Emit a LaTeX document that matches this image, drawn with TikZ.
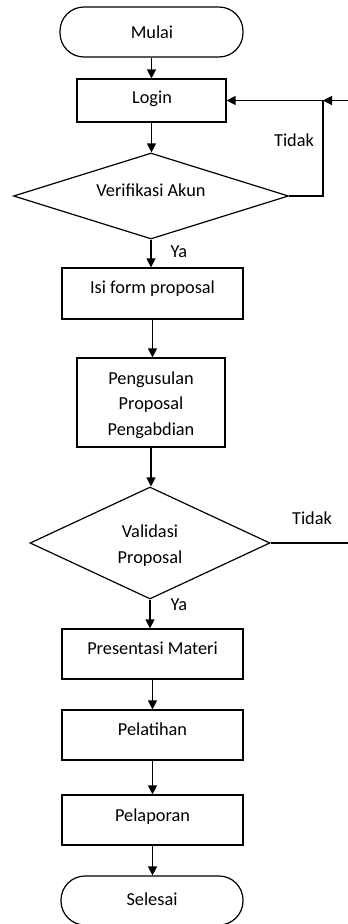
\documentclass[tikz,border=0pt]{standalone}
\usepackage{fontspec}
\setmainfont{Carlito}
\usetikzlibrary{shapes.geometric,arrows.meta}
\begin{document}
\begin{tikzpicture}[x=1pt,y=1pt,line width=1.2pt,
  boxnode/.style={draw, rectangle, inner sep=0pt},
  termnode/.style={draw, rectangle, rounded corners=24pt, inner sep=0pt},
  decnode/.style={draw, diamond, inner sep=0pt},
  lbl/.style={font=\fontsize{18.3}{25.7}\selectfont, inner sep=0pt, align=center, text=black},
  flow/.style={-{Triangle[length=9pt,width=9pt]}}
]
\useasboundingbox (0,0) rectangle (348,-924);

% shapes
\node[termnode, minimum width=183pt, minimum height=50pt] (start) at (151.5,-32) {};
\node[boxnode, minimum width=149pt, minimum height=43pt] (login) at (151.5,-100.5) {};
\node[decnode, minimum width=275pt, minimum height=86pt] (verif) at (151,-196) {};
\node[boxnode, minimum width=181pt, minimum height=51pt] (isi) at (152.5,-293.5) {};
\node[boxnode, minimum width=148pt, minimum height=89pt] (usul) at (151,-402.5) {};
\node[decnode, minimum width=240pt, minimum height=112pt] (valid) at (150,-543) {};
\node[boxnode, minimum width=181pt, minimum height=50pt] (pres) at (152.5,-654) {};
\node[boxnode, minimum width=181pt, minimum height=50pt] (latih) at (152.5,-735) {};
\node[boxnode, minimum width=181pt, minimum height=50pt] (lapor) at (152.5,-820) {};
\node[termnode, minimum width=182pt, minimum height=49pt] (finish) at (152,-900.5) {};

% texts
\node[lbl, anchor=base] (t-start) at (152,-38.3) {Mulai};
\node[lbl, anchor=base] (t-login) at (152,-103.5) {Login};
\node[lbl, anchor=base] (t-verif) at (151,-196) {Verifikasi Akun};
\node[lbl, anchor=base] (t-isi) at (152.5,-293.5) {Isi form proposal};
\node[lbl] (t-usul) at (151,-405) {Pengusulan\\Proposal\\Pengabdian};
\node[lbl] (t-valid) at (150,-545.7) {Validasi\\Proposal};
\node[lbl, anchor=base] (t-pres) at (152.5,-654.5) {Presentasi Materi};
\node[lbl, anchor=base] (t-latih) at (152.5,-735) {Pelatihan};
\node[lbl, anchor=base] (t-lapor) at (152.5,-821) {Pelaporan};
\node[lbl, anchor=base] (t-finish) at (152,-905) {Selesai};
\node[lbl, anchor=base] (tidak1) at (294,-146) {Tidak};
\node[lbl, anchor=base] (tidak2) at (312,-524.5) {Tidak};
\node[lbl, anchor=base west] (ya1) at (170,-257.8) {Ya};
\node[lbl, anchor=base west] (ya2) at (170,-610) {Ya};

% junction coordinates
\coordinate (jn) at (323,-100.5);
\coordinate (rin) at (348,-100.5);
\coordinate (rout) at (348,-543);

% connectors
\draw[flow] (start.south) -- (start.south |- login.north);
\draw[flow] (login.south) -- (login.south |- verif.north);
\draw[flow] (verif.south) -- (verif.south |- isi.north);
\draw[flow] (isi.south) -- (isi.south |- usul.north);
\draw[flow] (usul.south) -- (usul.south |- valid.north);
\draw[flow] (valid.south) -- (valid.south |- pres.north);
\draw[flow] (pres.south) -- (pres.south |- latih.north);
\draw[flow] (latih.south) -- (latih.south |- lapor.north);
\draw[flow] (lapor.south) -- (lapor.south |- finish.north);
\draw[flow] (verif.east) -| (jn) -- (login.east);
\draw[flow] (rin) -- (jn);
\draw (valid.east) -- (rout);
\end{tikzpicture}
\end{document}
